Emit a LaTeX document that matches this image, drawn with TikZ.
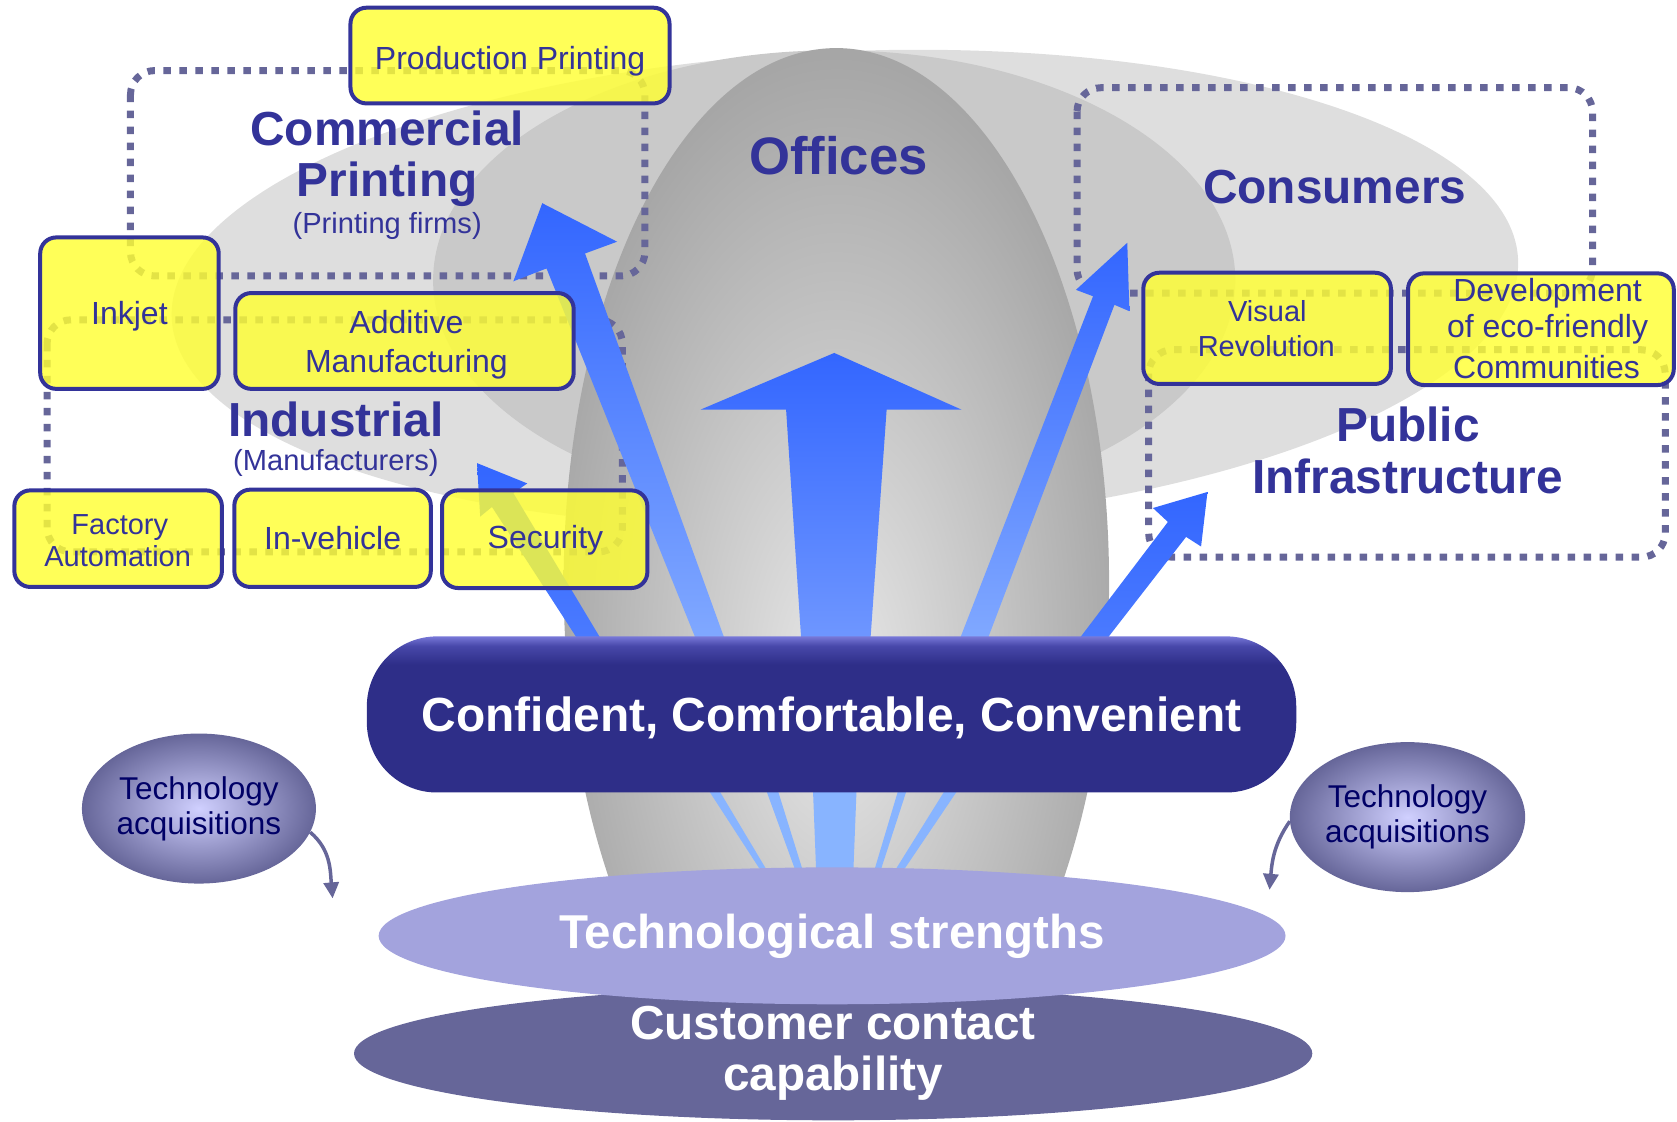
\documentclass[tikz,border=0pt]{standalone}
\usepackage{fontspec}
\setmainfont{Liberation Sans}
\usetikzlibrary{fit,shapes.geometric,arrows.meta}
\definecolor{navy}{HTML}{333399}
\definecolor{dotcol}{HTML}{666699}
\definecolor{boxyellow}{HTML}{FFFF33}
\definecolor{arrowblue}{HTML}{3366FF}
\definecolor{arrowlight}{HTML}{80A8FF}
\definecolor{arrowmid}{HTML}{6E96FF}
\definecolor{arrowdeep}{HTML}{4A7AFF}
\definecolor{raylight}{HTML}{88B4FF}
\definecolor{pillcol}{HTML}{2E2E88}
\definecolor{pillmid}{HTML}{4848AA}
\definecolor{pilltop}{HTML}{7878D8}
\definecolor{techcol}{HTML}{A3A3DD}
\definecolor{custcol}{HTML}{666699}
\definecolor{acqin}{HTML}{D0D0FF}
\definecolor{acqout}{HTML}{666699}
\definecolor{acqtext}{HTML}{000066}
\definecolor{outergray}{HTML}{DEDEDE}
\definecolor{midgray}{HTML}{C9C9C9}
\definecolor{eggin}{HTML}{E8E8E8}
\definecolor{eggout}{HTML}{A6A6A6}
\pgfdeclareradialshading{eggshade}{\pgfpoint{0bp}{-5bp}}{color(0bp)=(eggin); color(27bp)=(eggout); color(50bp)=(eggout)}
\pgfdeclareverticalshading{pillshade}{100bp}{color(0bp)=(pillcol); color(25bp)=(pillcol); color(66bp)=(pillcol); color(72bp)=(pillmid); color(75bp)=(pilltop); color(100bp)=(pilltop)}
\tikzset{
  region/.style={draw=dotcol, line width=7pt, dash pattern=on 7.5pt off 8.5pt, rounded corners=24pt},
  ybox/.style={draw=navy, line width=4pt, fill=boxyellow, fill opacity=0.82, rounded corners=16pt, inner sep=0pt, outer sep=0pt},
  boxtext/.style={text=navy, anchor=base, inner sep=0pt, font=\fontsize{32}{38}\selectfont},
  smallboxtext/.style={text=navy, anchor=base, inner sep=0pt, font=\fontsize{29}{35}\selectfont},
  biglabel/.style={text=navy, anchor=base, inner sep=0pt, font=\bfseries\fontsize{47.8}{52}\selectfont},
  sublabel/.style={text=navy, anchor=base, inner sep=0pt, font=\fontsize{29.1}{35}\selectfont},
  arrowshade/.style={top color=arrowblue, bottom color=#1},
  acq/.style={ellipse, inner sep=0pt, minimum width=234pt, minimum height=150pt, inner color=acqin, outer color=acqout, text=acqtext, align=center, font=\fontsize{31.5}{35}\selectfont},
  acqarrow/.style={draw=dotcol, line width=3.5pt, -{Triangle[width=15pt,length=16pt]}},
}
\begin{document}
\begin{tikzpicture}[x=1.0695pt, y=-1.0695pt]
\useasboundingbox (0,0) rectangle (1568,1049);
% background ellipses
\fill[outergray, rotate around={2.5:(790,270)}] (790,270) ellipse [x radius=673.8pt, y radius=237.4pt];
\fill[midgray] (780,262) ellipse [x radius=401.1pt, y radius=229.9pt];
\begin{scope}
  \clip (0,0) rectangle (1568,900);
  \shade[shading=eggshade] (782,545) ellipse [x radius=272.7pt, y radius=534.8pt];
\end{scope}
% dotted regions
\draw[region] (122,66) rectangle (603,258);
\draw[region] (44,299) rectangle (582,516);
\draw[region] (1007,82) rectangle (1489,274);
\draw[region] (1074,327) rectangle (1557,521);
% arrows
\shade[arrowshade=arrowmid] (749,596) -- (814,596) -- (829,383) -- (899,383) -- (780,330) -- (655,383) -- (735,383) -- cycle;
\shade[arrowshade=arrowlight] (650,596) -- (677,596) -- (547,237) -- (577,226) -- (507,190) -- (480,263) -- (511,251) -- cycle;
\shade[arrowshade=arrowlight] (898,596) -- (924,596) -- (1042,285) -- (1056,291) -- (1054,227) -- (1006,271) -- (1022,277) -- cycle;
\shade[arrowshade=arrowdeep] (539,596) -- (561,596) -- (480,461) -- (493,452) -- (446,433) -- (449,483) -- (460,474) -- cycle;
\shade[arrowshade=arrowdeep] (1010,596) -- (1036,596) -- (1109,502) -- (1123,511) -- (1129,460) -- (1078,475) -- (1092,488) -- cycle;
% rays below the band
\fill[raylight] (660,735) -- (670,735) -- (716,812) -- (710,812) -- cycle;
\fill[raylight] (715,735) -- (726,735) -- (750,812) -- (743,812) -- cycle;
\fill[raylight] (760,735) -- (801,735) -- (798,812) -- (763,812) -- cycle;
\fill[raylight] (841,735) -- (849,735) -- (824,812) -- (818,812) -- cycle;
\fill[raylight] (886,735) -- (898,735) -- (846,812) -- (838,812) -- cycle;
% yellow boxes
\node[ybox, fit={(327.7,7.2) (626,96.7)}] (pp) {};
\node[ybox, fit={(37.6,222) (204.5,363.6)}] (ink) {};
\node[ybox, fit={(220,274) (536.4,363.6)}] (add) {};
\node[ybox, fit={(13.4,458.5) (207.5,548.8)}] (fa) {};
\node[ybox, fit={(219.1,457.8) (402.8,548.8)}] (veh) {};
\node[ybox, fit={(413.3,458.5) (605.3,549.8)}] (sec) {};
\node[ybox, fit={(1069,255) (1300.5,359)}] (vr) {};
\node[ybox, fit={(1316.5,255.6) (1565,360)}] (dev) {};
% box texts
\node[boxtext] (tpp) at (477,65) {Production Printing};
\node[boxtext] (tink) at (121,303) {Inkjet};
\node[boxtext] (tadd1) at (380,312) {Additive};
\node[boxtext] (tadd2) at (380,348) {Manufacturing};
\node[smallboxtext] (tfa1) at (112,500) {Factory};
\node[smallboxtext] (tfa2) at (110,530) {Automation};
\node[boxtext] (tveh) at (311,514) {In-vehicle};
\node[boxtext] (tsec) at (510,513) {Security};
\node[smallboxtext] (tvr1) at (1185,301) {Visual};
\node[smallboxtext] (tvr2) at (1184,333.5) {Revolution};
\node[boxtext] (tdev1) at (1447,282) {Development};
\node[boxtext] (tdev2) at (1447,316) {of eco-friendly};
\node[boxtext] (tdev3) at (1446,353.6) {Communities};
% region labels
\node[biglabel] (lcom1) at (362,136) {Commercial};
\node[biglabel] (lcom2) at (362,184) {Printing};
\node[sublabel] (lcom3) at (362,218.5) {(Printing firms)};
\node[biglabel, font=\bfseries\fontsize{52.7}{58}\selectfont] (loff) at (784,162.7) {Offices};
\node[biglabel] (lcon) at (1248,190.7) {Consumers};
\node[biglabel] (lind1) at (314,408) {Industrial};
\node[sublabel] (lind2) at (314,440) {(Manufacturers)};
\node[biglabel] (lpub1) at (1316.5,413) {Public};
\node[biglabel] (lpub2) at (1316,461) {Infrastructure};
% bottom
\node[ellipse, fill=custcol, minimum width=958.3pt, minimum height=128.3pt, inner sep=0pt, text=white, align=center, font=\bfseries\fontsize{47.7}{51.3}\selectfont] (cust) at (779,985) {Customer contact\\capability};
\node[ellipse, fill=techcol, minimum width=906.9pt, minimum height=136.9pt, inner sep=0pt, text=white, font=\bfseries\fontsize{47.5}{52}\selectfont] (tech) at (778,875) {Technological strengths};
\node[shade, shading=pillshade, rounded corners=70pt, inner sep=0pt, minimum width=929.4pt, minimum height=156.1pt, text=white, text depth=0pt, font=\bfseries\fontsize{47.9}{52}\selectfont] (pill) at (777.5,668) {Confident, Comfortable, Convenient};
% technology acquisitions
\node[acq] (acqL) at (186,756) {Technology\\acquisitions};
\node[acq, minimum width=235.3pt] (acqR) at (1316,764) {Technology\\acquisitions};
\coordinate (tipL) at (311,840);
\coordinate (tipR) at (1187,832);
\draw[acqarrow] (acqL.-12) to[out=-40, in=95] (tipL);
\draw[acqarrow] (acqR.-178) to[out=-125, in=85] (tipR);
\end{tikzpicture}
\end{document}
